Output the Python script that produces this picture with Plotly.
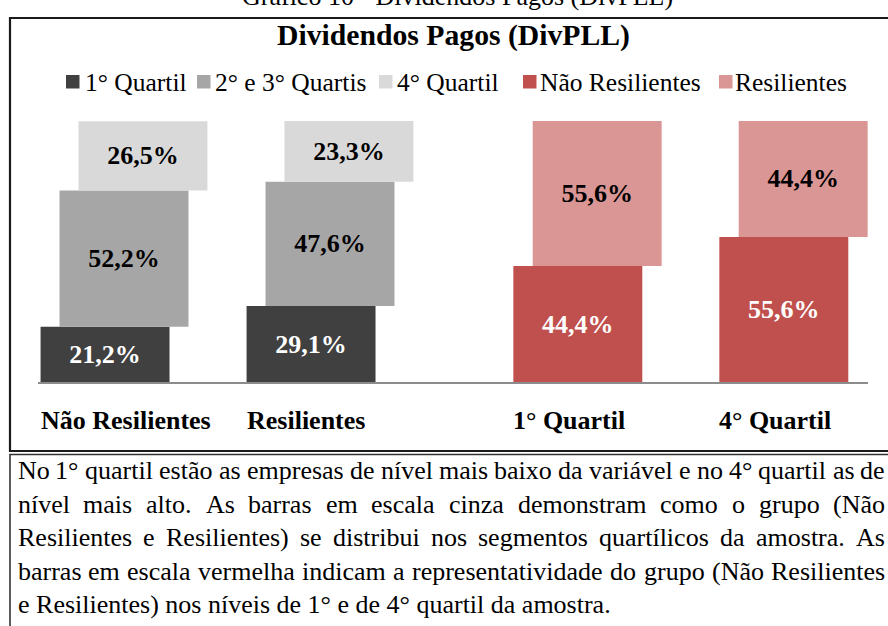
import plotly.graph_objects as go

# ---------------- data ----------------
grupos = ["Não Resilientes", "Resilientes"]
quartis = ["1° Quartil", "4° Quartil"]
q1 = [21.2, 29.1]          # 1° Quartil
q23 = [52.2, 47.6]         # 2° e 3° Quartis
q4 = [26.5, 23.3]          # 4° Quartil
nao_resilientes = [44.4, 55.6]
resilientes = [55.6, 44.4]

legenda = ["1° Quartil", "2° e 3° Quartis", "4° Quartil", "Não Resilientes", "Resilientes"]
titulo = "Dividendos Pagos (DivPLL)"
legenda_fig = "Gráfico 10 - Dividendos Pagos (DivPLL)"
nota = [
    "No 1° quartil estão as empresas de nível mais baixo da variável e no 4° quartil as de",
    "nível mais alto. As barras em escala cinza demonstram como o grupo (Não",
    "Resilientes e Resilientes) se distribui nos segmentos quartílicos da amostra. As",
    "barras em escala vermelha indicam a representatividade do grupo (Não Resilientes",
    "e Resilientes) nos níveis de 1° e de 4° quartil da amostra.",
]

# ---------------- layout / style ----------------
W, H = 888, 626
FONT = "Liberation Serif"
pos_cinza = [0.0, 1.0]
pos_verm = [2.25, 3.25]
bar_w = 0.626
desloc_cinza = [-0.092, 0.0, 0.092]
desloc_verm = [-0.047, 0.047]
cores_cinza = ["#404040", "#a6a6a6", "#d9d9d9"]
cores_verm = ["#c0504d", "#d99694"]
cor_txt_cinza = ["white", "black", "black"]
cor_txt_verm = ["white", "black"]
UNIT_PX, ORIG_PX = 206.0, 124.0
AX_L, AX_R, AX_BASE, AX_TOP = 38.0, 868.0, 382.0, 121.0
FS_BARRA = 26


def px(x):
    return x / W


def py(y):
    return 1 - y / H


def fmt(v):
    return f"{v:.1f}".replace(".", ",") + "%"


fig = go.Figure()

series_cinza = [q1, q23, q4]
base = [0.0] * len(grupos)
for i, vals in enumerate(series_cinza):
    fig.add_trace(go.Bar(
        x=pos_cinza, y=vals, base=list(base), name=legenda[i],
        width=bar_w, offset=desloc_cinza[i] - bar_w / 2,
        marker=dict(color=cores_cinza[i], line=dict(width=0)),
        text=[fmt(v) for v in vals], textposition="inside",
        insidetextanchor="middle", textangle=0,
        textfont=dict(family=FONT, size=FS_BARRA, color=cor_txt_cinza[i], weight="bold"),
        hoverinfo="skip", showlegend=False,
    ))
    base = [b + v for b, v in zip(base, vals)]

series_verm = [nao_resilientes, resilientes]
base = [0.0] * len(quartis)
for i, vals in enumerate(series_verm):
    fig.add_trace(go.Bar(
        x=pos_verm, y=vals, base=list(base), name=legenda[3 + i],
        width=bar_w, offset=desloc_verm[i] - bar_w / 2,
        marker=dict(color=cores_verm[i], line=dict(width=0)),
        text=[fmt(v) for v in vals], textposition="inside",
        insidetextanchor="middle", textangle=0,
        textfont=dict(family=FONT, size=FS_BARRA, color=cor_txt_verm[i], weight="bold"),
        hoverinfo="skip", showlegend=False,
    ))
    base = [b + v for b, v in zip(base, vals)]

annotations = []
shapes = []

# caption (cut at top edge of the picture, as in the reference)
annotations.append(dict(text=legenda_fig, x=px(457), y=py(-3.6), xref="paper", yref="paper",
                        xanchor="center", yanchor="middle", showarrow=False,
                        font=dict(family=FONT, size=26, color="black")))
# title
annotations.append(dict(text="<b>" + titulo + "</b>", x=px(453.5), y=py(36), xref="paper", yref="paper",
                        xanchor="center", yanchor="middle", showarrow=False,
                        font=dict(family=FONT, size=29.7, color="black")))

# legend (manual)
leg_sq = [66, 197, 379, 523, 719]
leg_tx = [85, 215, 397, 540, 735]
leg_cores = cores_cinza + cores_verm
for i, nome in enumerate(legenda):
    shapes.append(dict(type="rect", xref="paper", yref="paper",
                       x0=px(leg_sq[i]), x1=px(leg_sq[i] + 13.5), y0=py(88.5), y1=py(75),
                       fillcolor=leg_cores[i], line=dict(width=0)))
    annotations.append(dict(text=nome, x=px(leg_tx[i]), y=py(82.5), xref="paper", yref="paper",
                            xanchor="left", yanchor="middle", showarrow=False,
                            borderpad=0, borderwidth=0,
                            font=dict(family=FONT, size=25.5, color="black")))

# category labels, left-aligned with the first segment of each group
for cat, p, d in [(grupos[0], pos_cinza[0], desloc_cinza[0]), (grupos[1], pos_cinza[1], desloc_cinza[0]),
                  (quartis[0], pos_verm[0], desloc_verm[0]), (quartis[1], pos_verm[1], desloc_verm[0])]:
    annotations.append(dict(text="<b>" + cat + "</b>", x=p + d - bar_w / 2, y=py(420),
                            xref="x", yref="paper", xanchor="left", yanchor="middle",
                            borderpad=0, borderwidth=0,
                            showarrow=False, font=dict(family=FONT, size=26, color="black")))

# justified note text
LARG = {' ': 250, '(': 333, ')': 333, '.': 250, ',': 250, '°': 400,
        'A': 722, 'N': 722, 'R': 667,
        'a': 444, 'b': 500, 'c': 444, 'd': 500, 'e': 444, 'f': 333, 'g': 500, 'h': 500,
        'i': 278, 'j': 278, 'k': 500, 'l': 278, 'm': 778, 'n': 500, 'o': 500, 'p': 500,
        'q': 500, 'r': 333, 's': 389, 't': 278, 'u': 500, 'v': 500, 'w': 722, 'x': 500,
        'y': 500, 'z': 444, 'á': 444, 'ã': 444, 'â': 444, 'é': 444, 'ê': 444, 'í': 278,
        'ó': 500, 'õ': 500, 'ú': 500, 'ç': 444}
for d_ in "0123456789":
    LARG[d_] = 500
FS_NOTA = 26
TX_L, TX_R = 17.5, 885.0


def larg(s):
    return sum(LARG.get(c, 500) for c in s) * FS_NOTA / 1000.0


for li, linha in enumerate(nota):
    yc = 470.5 + 33.5 * li
    if li < len(nota) - 1:
        palavras = linha.split(" ")
        ws = [larg(w) for w in palavras]
        gap = (TX_R - TX_L - sum(ws)) / (len(palavras) - 1)
        x = TX_L
        for w, wl in zip(palavras, ws):
            annotations.append(dict(text=w, x=px(x), y=py(yc), xref="paper", yref="paper",
                                    xanchor="left", yanchor="middle", showarrow=False,
                                    borderpad=0, borderwidth=0,
                                    font=dict(family=FONT, size=FS_NOTA, color="black")))
            x += wl + gap
    else:
        annotations.append(dict(text=linha, x=px(TX_L), y=py(yc), xref="paper", yref="paper",
                                xanchor="left", yanchor="middle", showarrow=False,
                                borderpad=0, borderwidth=0,
                                font=dict(family=FONT, size=FS_NOTA, color="black")))

# frames
shapes.append(dict(type="rect", xref="paper", yref="paper", x0=px(10), x1=1.02,
                   y0=py(451), y1=py(18), line=dict(color="#1a1a1a", width=2.2)))
shapes.append(dict(type="rect", xref="paper", yref="paper", x0=px(10), x1=1.02,
                   y0=-0.02, y1=py(454.5), line=dict(color="#333333", width=1.6)))

fig.update_layout(
    width=W, height=H,
    margin=dict(l=0, r=0, t=0, b=0),
    paper_bgcolor="white", plot_bgcolor="white",
    barmode="overlay",
    font=dict(family=FONT, color="black"),
    xaxis=dict(domain=[px(AX_L), px(AX_R)],
               range=[(AX_L - ORIG_PX) / UNIT_PX, (AX_R - ORIG_PX) / UNIT_PX],
               showline=True, linecolor="#8c8c8c", linewidth=1.5,
               showgrid=False, zeroline=False, showticklabels=False, ticks=""),
    yaxis=dict(domain=[py(AX_BASE), py(AX_TOP)], range=[0, 100], visible=False),
    annotations=annotations,
    shapes=shapes,
    showlegend=False,
)

fig.write_html("out.html",
               config={"displayModeBar": False, "staticPlot": True},
               post_script="document.body.style.margin='0';document.body.style.overflow='hidden';")
